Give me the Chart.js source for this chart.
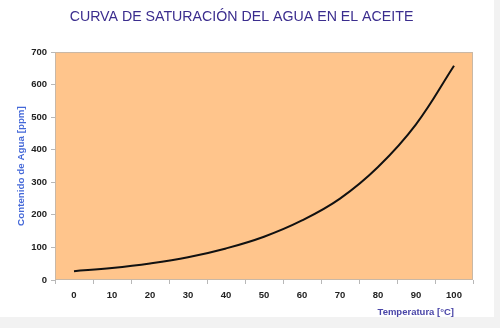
<!DOCTYPE html>
<html>
<head>
<meta charset="utf-8">
<script src="https://cdn.jsdelivr.net/npm/chart.js@4.4.1/dist/chart.umd.min.js"></script>
<style>
  html, body { margin: 0; padding: 0; background: #f2f2f2; }
  #wrap { width: 494px; height: 317px; background: #ffffff; }
</style>
</head>
<body>
<div id="wrap"><canvas id="chart" width="494" height="317"></canvas></div>
<script>
// temperatura [°C] y contenido de agua [ppm]
const temperaturas = ['0', '10', '20', '30', '40', '50', '60', '70', '80', '90', '100'];
const contenidoAgua = [27, 37, 51, 70, 97, 133, 183, 250, 347, 478, 658];
const yTicks = [0, 100, 200, 300, 400, 500, 600, 700];

const tickFont = { family: 'Liberation Sans, Arial, sans-serif', size: 9.5, weight: 'bold' };

// fondo salmón del área de trazado y borde fino
const plotBackground = {
    id: 'plotBackground',
    beforeDraw(chart) {
        const { ctx, chartArea: a } = chart;
        ctx.save();
        ctx.fillStyle = '#ffc58c';
        ctx.fillRect(a.left, a.top, a.right - a.left, a.bottom - a.top);
        ctx.strokeStyle = '#c9b8a6';
        ctx.lineWidth = 1;
        ctx.strokeRect(a.left + 0.5, a.top + 0.5, a.right - a.left - 1, a.bottom - a.top - 1);
        ctx.restore();
    }
};

// título del eje X alineado con la última categoría
const xTitle = {
    id: 'xTitle',
    afterDraw(chart) {
        const { ctx } = chart;
        const x = chart.scales.x;
        ctx.save();
        ctx.font = 'bold 9.5px "Liberation Sans", Arial, sans-serif';
        ctx.fillStyle = '#4a46a8';
        ctx.textAlign = 'right';
        ctx.textBaseline = 'middle';
        ctx.fillText('Temperatura [°C]', x.getPixelForValue(temperaturas.length - 1), 312);
        ctx.restore();
    }
};

new Chart(document.getElementById('chart'), {
    type: 'line',
    data: {
        labels: temperaturas,
        datasets: [{
            label: 'Contenido de Agua',
            data: contenidoAgua,
            borderColor: '#111111',
            borderWidth: 2,
            pointRadius: 0,
            fill: false,
            tension: 0.4
        }]
    },
    options: {
        responsive: false,
        animation: false,
        layout: { padding: { left: 10, right: 21, top: 0, bottom: 0 } },
        plugins: {
            legend: { display: false },
            tooltip: { enabled: false },
            title: {
                display: true,
                text: 'CURVA DE SATURACIÓN DEL AGUA EN EL ACEITE',
                color: '#3b2d8e',
                font: { family: 'Liberation Sans, Arial, sans-serif', size: 14.2, weight: 'normal' },
                padding: { top: 9, bottom: 26 }
            }
        },
        scales: {
            x: {
                offset: true,
                grid: { offset: true, drawOnChartArea: false, drawTicks: true, tickLength: 4, color: '#b8b8b8' },
                border: { display: false },
                ticks: { color: '#222222', font: tickFont, padding: 6, maxRotation: 0 },
                afterFit(scale) { scale.height = 37; }
            },
            y: {
                min: 0,
                max: 700,
                afterBuildTicks(scale) { scale.ticks = yTicks.map(v => ({ value: v })); },
                grid: { drawOnChartArea: false, drawTicks: true, tickLength: 4, color: '#b8b8b8' },
                border: { display: false },
                ticks: { color: '#222222', font: tickFont, padding: 4 },
                title: {
                    display: true,
                    text: 'Contenido de Agua [ppm]',
                    color: '#4468d8',
                    font: { family: 'Liberation Sans, Arial, sans-serif', size: 9.8, weight: 'bold' },
                    padding: { top: 5, bottom: 0 }
                },
                afterFit(scale) { scale.width = 45; }
            }
        }
    },
    plugins: [plotBackground, xTitle]
});
</script>
</body>
</html>
